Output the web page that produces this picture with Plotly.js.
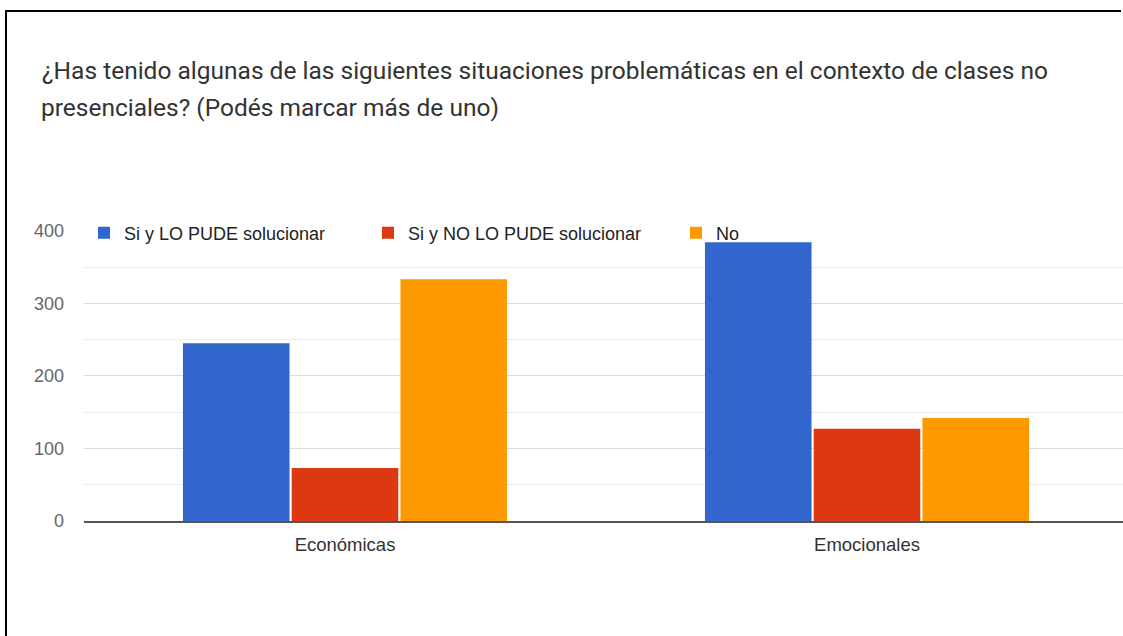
<!DOCTYPE html>
<html>
<head>
<meta charset="utf-8">
<script src="https://cdn.plot.ly/plotly-3.0.1.min.js"></script>
<style>
  html, body { margin: 0; padding: 0; background: #fff; overflow: hidden; }
  #chart { width: 1123px; height: 636px; }
</style>
</head>
<body>
<div id="chart"></div>
<script>
var categories = ['Económicas', 'Emocionales'];
var seriesNames = ['Si y LO PUDE solucionar', 'Si y NO LO PUDE solucionar', 'No'];
var pudeSolucionar = [245, 384];
var noPudeSolucionar = [73, 127];
var noTuvo = [333, 142];
var yTicks = [0, 100, 200, 300, 400];

var titleLine1 = '¿Has tenido algunas de las siguientes situaciones problemáticas en el contexto de clases no';
var titleLine2 = 'presenciales? (Podés marcar más de uno)';

var colors = ['#3366cc', '#dc3912', '#ff9900'];
var legendWidths = [239, 263, 40];

// plot area in page pixels, used to place the frame and the second title line
var plotLeft = 84, plotTop = 230, plotBottom = 521, plotRight = 1123;
function px2x(px) { return (px - plotLeft) / (plotRight - plotLeft); }
function px2y(py) { return (plotBottom - py) / (plotBottom - plotTop); }

var data = [pudeSolucionar, noPudeSolucionar, noTuvo].map(function(vals, i) {
  return {
    type: 'bar',
    name: seriesNames[i],
    x: categories,
    y: vals,
    marker: {color: colors[i]},
    legendwidth: legendWidths[i],
    hoverinfo: 'x+y+name'
  };
});

var titleFont = {family: 'Roboto, "Open Sans", sans-serif', size: 24.5, color: '#333'};

var layout = {
  width: 1123,
  height: 636,
  margin: {l: 84, r: 0, t: 230, b: 115, pad: 0},
  paper_bgcolor: '#fff',
  plot_bgcolor: 'rgba(0,0,0,0)',
  font: {family: '"Liberation Sans", Arial, sans-serif', size: 18, color: '#333'},
  title: {
    text: titleLine1,
    font: titleFont,
    xref: 'container', x: 42 / 1123, xanchor: 'left',
    yref: 'container', y: 1 - 62 / 636, yanchor: 'top'
  },
  annotations: [{
    text: titleLine2,
    font: titleFont,
    xref: 'paper', x: px2x(39), xanchor: 'left',
    yref: 'paper', y: px2y(108), yanchor: 'middle',
    showarrow: false
  }],
  shapes: [
    {type: 'line', xref: 'paper', yref: 'paper', layer: 'above',
     x0: px2x(5), x1: px2x(1121), y0: px2y(11), y1: px2y(11),
     line: {color: '#000', width: 2}},
    {type: 'line', xref: 'paper', yref: 'paper', layer: 'above',
     x0: px2x(6), x1: px2x(6), y0: px2y(10), y1: px2y(640),
     line: {color: '#000', width: 2}}
  ],
  barmode: 'group',
  bargap: 0.375,
  bargroupgap: 0.02,
  showlegend: true,
  legend: {
    orientation: 'h',
    x: 0, xanchor: 'left',
    y: px2y(233), yanchor: 'middle',
    bgcolor: 'rgba(0,0,0,0)',
    font: {size: 18, color: '#222'},
    traceorder: 'normal'
  },
  xaxis: {
    type: 'category',
    range: [-0.5, -0.5 + 1039 / 522],
    showgrid: false,
    zeroline: false,
    showline: true,
    linecolor: '#555',
    linewidth: 2,
    ticks: '',
    ticklabelstandoff: 6,
    tickfont: {size: 18.5, color: '#333'},
    fixedrange: true
  },
  yaxis: {
    range: [0, 401],
    tickvals: yTicks,
    ticktext: yTicks.map(String),
    showgrid: true,
    gridcolor: '#dcdcdc',
    gridwidth: 1,
    minor: {dtick: 50, tick0: 0, showgrid: true, gridcolor: '#ececec', gridwidth: 1},
    zeroline: false,
    ticks: '',
    ticklabelstandoff: 19,
    tickfont: {size: 18, color: '#666'},
    fixedrange: true
  }
};

Plotly.newPlot('chart', data, layout, {displayModeBar: false});
</script>
</body>
</html>
